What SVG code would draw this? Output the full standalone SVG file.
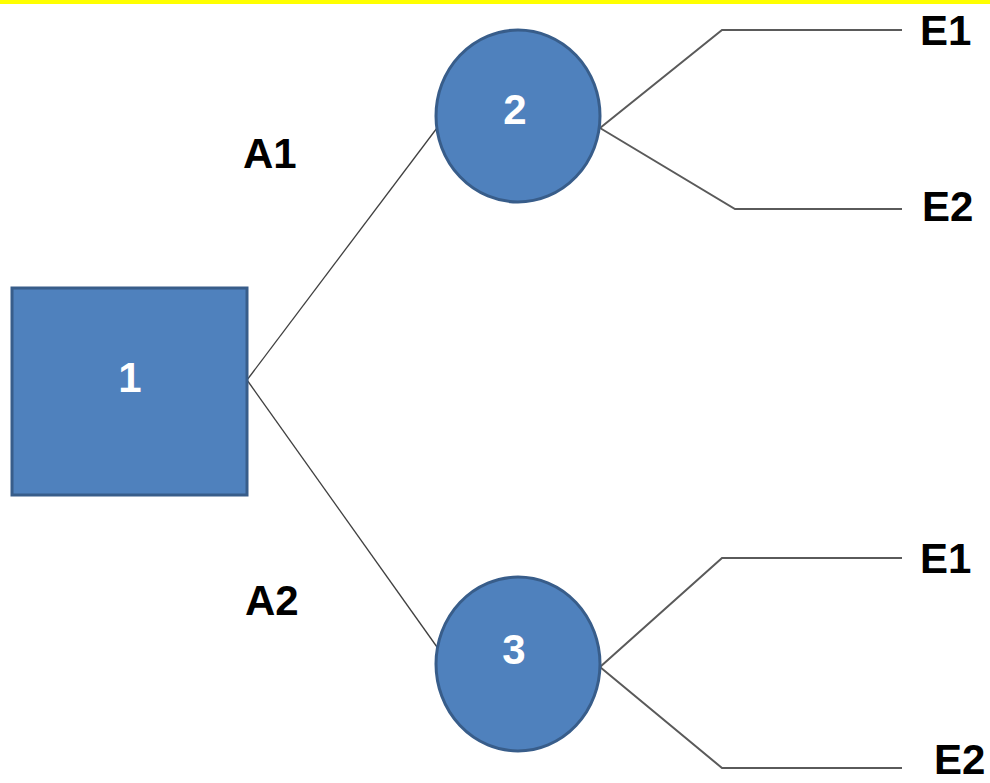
<svg xmlns="http://www.w3.org/2000/svg" width="990" height="783" viewBox="0 0 990 783">
  <style>
    .node { fill: #4F81BD; stroke: #385D8A; stroke-width: 3; }
    .num { font-family: "Liberation Sans", Arial, sans-serif; font-weight: bold; font-size: 42px; fill: #FFFFFF; text-anchor: middle; }
    .lbl { font-family: "Liberation Sans", Arial, sans-serif; font-weight: bold; font-size: 42px; fill: #000000; }
    .edge { fill: none; stroke: #404040; stroke-width: 1.3; }
    .branch { fill: none; stroke: #5A5A5A; stroke-width: 2; }
  </style>
  <rect x="0" y="0" width="990" height="783" fill="#FFFFFF"/>
  <rect x="0" y="0" width="990" height="4" fill="#FFFF00"/>

  <g id="connectors">
    <line class="edge" x1="247" y1="380" x2="437" y2="128"/>
    <line class="edge" x1="247" y1="380" x2="437" y2="647"/>
    <polyline class="branch" points="600,128 722,30 902,30"/>
    <polyline class="branch" points="600,128 735,209 902,209"/>
    <polyline class="branch" points="600,667 722,558 902,558"/>
    <polyline class="branch" points="600,667 722,768 902,768"/>
  </g>

  <g id="node-1">
    <rect class="node" x="12" y="288" width="235" height="207"/>
    <text class="num" x="130" y="392">1</text>
  </g>
  <g id="node-2">
    <ellipse class="node" cx="518" cy="116" rx="82" ry="86"/>
    <text class="num" x="515" y="124">2</text>
  </g>
  <g id="node-3">
    <ellipse class="node" cx="518" cy="664" rx="82" ry="87"/>
    <text class="num" x="514" y="664">3</text>
  </g>

  <g id="labels">
    <text class="lbl" x="243" y="168">A1</text>
    <text class="lbl" x="245" y="615">A2</text>
    <text class="lbl" x="920" y="45">E1</text>
    <text class="lbl" x="922" y="221">E2</text>
    <text class="lbl" x="920" y="573">E1</text>
    <text class="lbl" x="934" y="774">E2</text>
  </g>
</svg>
